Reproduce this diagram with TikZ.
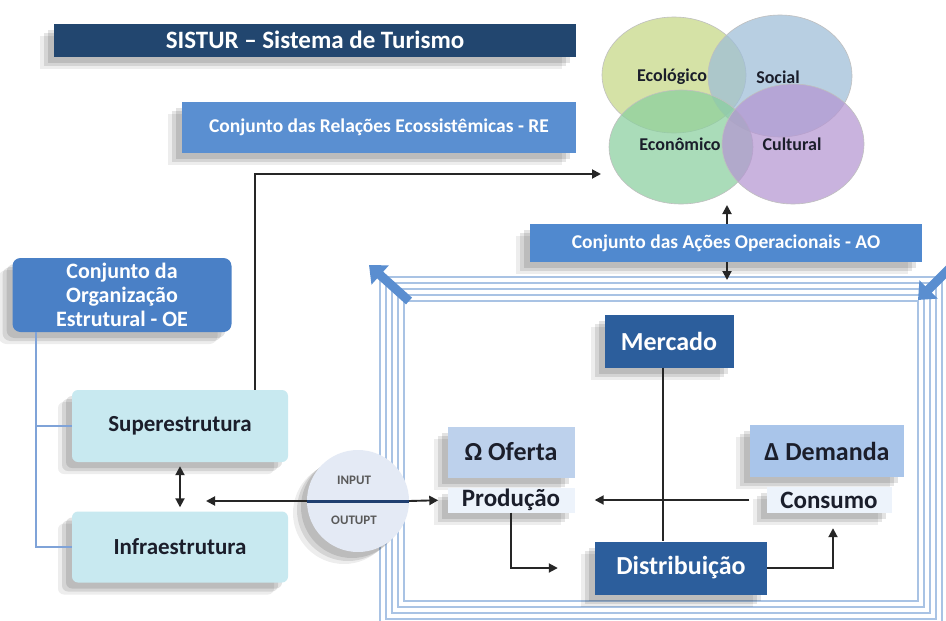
\documentclass[tikz,border=0pt]{standalone}
\usepackage{fontspec}
\setmainfont{Carlito}
\usetikzlibrary{arrows.meta,shadows,calc,shapes.geometric}
\definecolor{navy}{HTML}{22466F}
\definecolor{reblue}{HTML}{5A8FD1}
\definecolor{aoblue}{HTML}{5089CF}
\definecolor{oeblue}{HTML}{4A80C6}
\definecolor{cyanbox}{HTML}{C8E9F0}
\definecolor{darkbox}{HTML}{2C5E9C}
\definecolor{oferta}{HTML}{BDD1EC}
\definecolor{demanda}{HTML}{A9C5EA}
\definecolor{palebox}{HTML}{EDF3FB}
\definecolor{framec}{HTML}{A9C3E4}
\definecolor{oeline}{HTML}{7FA3D8}
\definecolor{ioc}{HTML}{E4EAF5}
\definecolor{iol}{HTML}{1F3F70}
\definecolor{blockarrow}{HTML}{5A8ED0}
\definecolor{ecol}{HTML}{C5D784}
\definecolor{socl}{HTML}{9DBDD8}
\definecolor{econ}{HTML}{8ACF9E}
\definecolor{cult}{HTML}{B596D2}
\definecolor{txt}{HTML}{1B1E2B}
\begin{document}
\begin{tikzpicture}[x=1pt,y=-1pt,
  sh/.style={general shadow={shadow xshift=-6pt,shadow yshift=-6pt,fill=black,opacity=0.11},
             general shadow={shadow xshift=-10pt,shadow yshift=-9pt,fill=black,opacity=0.10},
             general shadow={shadow xshift=-14pt,shadow yshift=-12pt,fill=black,opacity=0.07}},
  bx/.style={rectangle, inner sep=0pt, align=center, font=\bfseries\fontsize{#1}{#1}\selectfont},
  arr/.style={draw=black!85, line width=1.9pt, -{Triangle[length=9pt,width=9pt]}},
  darr/.style={draw=black!85, line width=1.9pt, {Triangle[length=9pt,width=9pt]}-{Triangle[length=9pt,width=9pt]}},
  fr/.style={draw=framec, line width=1.3pt},
  venn/.style={ellipse, draw=black!25, line width=0.6pt, fill opacity=0.72, inner sep=0pt},
  lbl/.style={font=\bfseries\fontsize{18}{18}\selectfont, text=txt}
]
\useasboundingbox (0,0) rectangle (946,621);
\fill[white] (0,0) rectangle (946,621);

% frame of nested rectangles
\foreach \i in {0,1,2,3,4}{
  \draw[fr] (380+6*\i,277+6*\i) rectangle (942-6*\i,625-6*\i);
}

% block arrows
\coordinate (blt) at (409,301);
\coordinate (blh) at (369,265);
\coordinate (brt) at (952,266);
\coordinate (brh) at (918,300);
\draw[blockarrow, line width=9pt, -{Triangle[length=15pt,width=25pt]}] (blt) -- (blh);
\draw[blockarrow, line width=9pt, -{Triangle[length=15pt,width=25pt]}] (brt) -- (brh);

% title and RE
\node[bx=25, sh, fill=navy, text=white, minimum width=522pt, minimum height=33pt] (title) at (315,40) {SISTUR -- Sistema de Turismo};
\node[bx=19.5, sh, fill=reblue, text=white, minimum width=394pt, minimum height=51pt] (re) at (379,127) {Conjunto das Relações Ecossistêmicas - RE};

% Venn
\node[venn, fill=ecol, minimum width=144pt, minimum height=116pt] (eco) at (674,75) {};
\node[venn, fill=socl, minimum width=144pt, minimum height=122pt] (soc) at (780,76) {};
\node[venn, fill=econ, minimum width=144pt, minimum height=114pt] (ecn) at (681,147) {};
\node[venn, fill=cult, minimum width=142pt, minimum height=120pt] (cul) at (793,144) {};
\node[lbl] (teco) at (672,77) {Ecológico};
\node[lbl] (tsoc) at (778,77) {Social};
\node[lbl] (tecn) at (680,144) {Econômico};
\node[lbl] (tcul) at (792,144) {Cultural};

% AO
\node[bx=19.5, sh, fill=aoblue, text=white, minimum width=392pt, minimum height=38pt] (ao) at (726,243) {Conjunto das Ações Operacionais - AO};

% OE
\node[rectangle, inner sep=0pt, align=center, font=\bfseries\fontsize{22}{24}\selectfont, sh, fill=oeblue, text=white, rounded corners=8pt, minimum width=219pt, minimum height=74pt] (oe) at (122,295) {Conjunto da\\Organização\\Estrutural - OE};
\node[bx=23, sh, fill=cyanbox, text=txt, rounded corners=6pt, minimum width=216pt, minimum height=72pt] (sup) at (180,426) {Superestrutura};
\node[bx=23, sh, fill=cyanbox, text=txt, rounded corners=6pt, minimum width=216pt, minimum height=71pt] (inf) at (180,547) {Infraestrutura};

% market boxes
\node[bx=26, sh, fill=darkbox, text=white, minimum width=129pt, minimum height=53pt] (merc) at (669,341) {Mercado};
\node[bx=26, sh, fill=oferta, text=txt, minimum width=127pt, minimum height=51pt] (ofe) at (511,452) {Ω Oferta};
\node[bx=25, sh, fill=palebox, text=txt, minimum width=127pt, minimum height=25pt] (prod) at (511,500) {Produção};
\node[bx=26, sh, fill=demanda, text=txt, minimum width=154pt, minimum height=52pt] (dem) at (827,451) {Δ Demanda};
\node[bx=25, sh, fill=palebox, text=txt, minimum width=125pt, minimum height=26pt] (cons) at (829,500) {Consumo};
\node[bx=26, sh, fill=darkbox, text=white, minimum width=172pt, minimum height=53pt] (dist) at (681,568) {Distribuição};

% IO circle
\node[circle, sh, fill=ioc, minimum size=102pt, inner sep=0pt] (io) at (358,501) {};
\draw[iol, line width=3pt] (io.west) -- (io.east);
\node[font=\bfseries\fontsize{13}{13}\selectfont, text=black!65] (inp) at (354,480) {INPUT};
\node[font=\bfseries\fontsize{13}{13}\selectfont, text=black!65] (outp) at (354,520) {OUTUPT};

% connectors
\coordinate (venntarget) at (601,174);
\coordinate (vennbottom) at (727,205);
\coordinate (frametop) at (727,280);
\coordinate (ioleft) at (206,501);
\draw[arr] ([xshift=-33pt]sup.north east) |- (venntarget);
\draw[arr] (ao.north -| vennbottom) -- (vennbottom);
\draw[arr] (ao.south -| frametop) -- (frametop);
\draw[oeline, line width=2pt] ([xshift=24pt]oe.south west) |- (sup.west);
\draw[oeline, line width=2pt] ([xshift=24pt]oe.south west) |- (inf.west);
\draw[darr, shorten <=4pt, shorten >=4pt] (sup.south) -- (inf.north);
\draw[arr] (io.west) -- (ioleft);
\draw[arr, shorten >=9pt] (io.east) -- (prod.west);
\draw[arr, shorten <=17pt, shorten >=20pt] (cons.west) -- (prod.east);
\draw[draw=black!85, line width=1.9pt] ([xshift=-6pt]merc.south) -- ([xshift=-18pt]dist.north);
\draw[arr] (prod.south) |- ([xshift=-37pt]dist.west);
\draw[arr, shorten >=15pt] (dist.east) -| ([xshift=4pt]cons.south);
\end{tikzpicture}
\end{document}
